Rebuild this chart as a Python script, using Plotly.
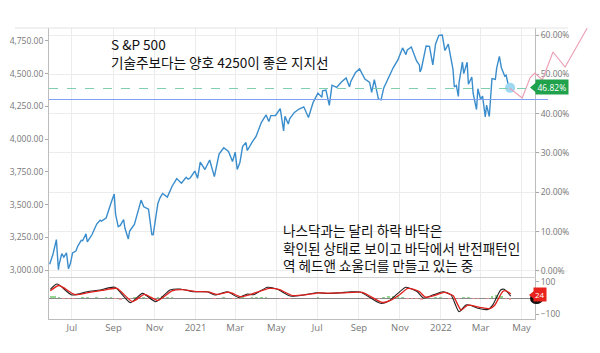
import plotly.graph_objects as go

# ---------------- data ----------------
sp_dates = ["2020-05-29","2020-06-03","2020-06-08","2020-06-11","2020-06-12","2020-06-16","2020-06-19","2020-06-23","2020-06-26","2020-06-29",
"2020-07-02","2020-07-07","2020-07-10","2020-07-15","2020-07-17","2020-07-22","2020-07-24","2020-07-29","2020-07-31","2020-08-07",
"2020-08-12","2020-08-14","2020-08-21","2020-08-28","2020-09-02","2020-09-04","2020-09-08","2020-09-11","2020-09-16","2020-09-18",
"2020-09-23","2020-09-25","2020-10-02","2020-10-09","2020-10-12","2020-10-16","2020-10-23","2020-10-28","2020-10-30","2020-11-04",
"2020-11-06","2020-11-09","2020-11-13","2020-11-20","2020-11-27","2020-12-04","2020-12-11","2020-12-18","2020-12-21","2020-12-24",
"2020-12-31","2021-01-04","2021-01-08","2021-01-15","2021-01-22","2021-01-27","2021-01-29","2021-02-05","2021-02-12","2021-02-19",
"2021-02-25","2021-03-01","2021-03-04","2021-03-08","2021-03-12","2021-03-17","2021-03-19","2021-03-26","2021-04-01","2021-04-09",
"2021-04-16","2021-04-20","2021-04-23","2021-04-30","2021-05-07","2021-05-12","2021-05-14","2021-05-19","2021-05-21","2021-05-28",
"2021-06-04","2021-06-11","2021-06-18","2021-06-25","2021-07-02","2021-07-08","2021-07-09","2021-07-14","2021-07-19","2021-07-23",
"2021-07-30","2021-08-06","2021-08-13","2021-08-18","2021-08-20","2021-08-27","2021-09-02","2021-09-10","2021-09-17","2021-09-20",
"2021-09-24","2021-09-30","2021-10-04","2021-10-08","2021-10-15","2021-10-22","2021-10-29","2021-11-05","2021-11-10","2021-11-12",
"2021-11-18","2021-11-26","2021-11-30","2021-12-01","2021-12-03","2021-12-10","2021-12-15","2021-12-20","2021-12-24","2021-12-29",
"2022-01-03","2022-01-07","2022-01-12","2022-01-14","2022-01-19","2022-01-21","2022-01-24","2022-01-27","2022-01-28","2022-02-02",
"2022-02-04","2022-02-09","2022-02-11","2022-02-16","2022-02-18","2022-02-23","2022-02-25","2022-03-01","2022-03-04","2022-03-08",
"2022-03-10","2022-03-14","2022-03-18","2022-03-23","2022-03-25","2022-03-29","2022-04-01","2022-04-06","2022-04-08","2022-04-12",
"2022-04-14"]
sp_values = [3044,3122,3232,3002,3041,3125,3098,3131,3009,3053,
3130,3145,3185,3227,3224,3276,3215,3258,3271,3351,
3380,3373,3397,3508,3580,3427,3332,3341,3385,3319,
3237,3298,3348,3477,3534,3483,3465,3271,3270,3443,
3509,3550,3585,3557,3638,3699,3663,3709,3694,3703,
3756,3701,3824,3768,3841,3750,3714,3886,3934,3906,
3829,3901,3768,3821,3943,3974,3913,3975,4020,4129,
4185,4134,4180,4181,4233,4063,4174,4116,4156,4204,
4230,4247,4166,4281,4352,4320,4370,4375,4258,4412,
4395,4437,4468,4400,4441,4509,4537,4459,4433,4358,
4455,4308,4300,4391,4471,4545,4605,4697,4646,4682,
4704,4595,4567,4513,4538,4712,4709,4568,4726,4793,
4796,4677,4726,4663,4533,4398,4410,4326,4432,4589,
4501,4587,4419,4475,4349,4226,4385,4306,4329,4170,
4260,4173,4463,4456,4543,4632,4546,4481,4488,4397,
4392]

proj_dates = ["2022-04-14","2022-05-03","2022-05-15","2022-05-22","2022-06-02","2022-06-18","2022-07-06","2022-08-08"]
proj_values = [4392,4314,4470,4505,4452,4666,4551,4849]

support_level = 4303
last_level = 4387
last_pct = 46.82
last_pct_text = "46.82%"

price_ticks = [3000,3250,3500,3750,4000,4250,4500,4750]
pct_ticks = [0,10,20,30,40,50,60]
pct_labels = ["0.00%","10.00%","20.00%","30.00%","40.00%","50.00%","60.00%"]

x_tick_dates = ["2020-07-01","2020-09-01","2020-11-01","2021-01-01","2021-03-01","2021-05-01",
                "2021-07-01","2021-09-01","2021-11-01","2022-01-01","2022-03-01","2022-05-01"]
x_tick_labels = ["Jul","Sep","Nov","2021","Mar","May","Jul","Sep","Nov","2022","Mar","May"]

osc_black_dates = ["2020-05-30","2020-06-09","2020-07-01","2020-07-24","2020-08-12","2020-09-03","2020-09-26","2020-10-14",
"2020-11-03","2020-11-24","2020-12-09","2020-12-29","2021-01-18","2021-01-30","2021-02-17","2021-03-06","2021-03-19",
"2021-03-28","2021-04-18","2021-05-03","2021-05-22","2021-06-11","2021-07-01","2021-07-16","2021-08-05","2021-08-20",
"2021-09-03","2021-10-03","2021-10-15","2021-10-29","2021-11-10","2021-11-27","2021-12-06","2021-12-21","2022-01-04",
"2022-01-16","2022-01-28","2022-02-07","2022-02-14","2022-02-25","2022-03-12","2022-03-19","2022-03-31","2022-04-05","2022-04-15"]
osc_black = [54,87,19,39,50,67,-29,29,-23,50,56,39,39,19,39,4,25,20,67,54,12,19,33,28,33,38,37,-33,-20,29,67,39,0,20,39,19,-86,-44,-45,-64,-71,-44,50,54,12]

osc_red_dates = ["2020-05-30","2020-06-12","2020-07-05","2020-07-27","2020-08-15","2020-09-06","2020-09-29","2020-10-17",
"2020-11-06","2020-11-27","2020-12-12","2021-01-01","2021-01-20","2021-02-02","2021-02-20","2021-03-09","2021-03-22",
"2021-04-21","2021-05-06","2021-05-25","2021-06-14","2021-07-04","2021-07-19","2021-08-08","2021-09-06","2021-10-06",
"2021-10-18","2021-11-01","2021-11-13","2021-11-30","2021-12-09","2021-12-24","2022-01-06","2022-01-19","2022-01-31",
"2022-02-10","2022-02-28","2022-03-15","2022-03-22","2022-04-03","2022-04-08","2022-04-15"]
osc_red = [45,78,22,35,47,60,-22,22,-15,45,52,40,38,22,36,8,20,60,52,15,20,32,30,32,35,-28,-15,22,60,40,5,18,35,15,-75,-45,-58,-66,-45,40,45,25]

hist_dates = ["2020-06-01","2020-06-05","2020-06-12","2020-06-19","2020-06-26","2020-07-03","2020-07-10","2020-07-17","2020-07-24",
"2020-07-31","2020-08-07","2020-08-14","2020-08-21","2020-08-28","2020-09-04","2020-09-11","2020-09-18","2020-09-25","2020-10-02",
"2020-10-09","2020-10-16","2020-10-23","2020-10-30","2020-11-06","2020-11-13","2020-11-20","2020-11-27","2020-12-04","2020-12-11",
"2020-12-18","2020-12-25","2021-01-01","2021-01-08","2021-01-15","2021-01-22","2021-01-29","2021-02-05","2021-02-12","2021-02-19",
"2021-02-26","2021-03-05","2021-03-12","2021-03-19","2021-03-26","2021-04-02","2021-04-09","2021-04-16","2021-04-23","2021-04-30",
"2021-05-07","2021-05-14","2021-05-21","2021-05-28","2021-06-04","2021-06-11","2021-06-18","2021-06-25","2021-07-02","2021-07-09",
"2021-07-16","2021-07-23","2021-07-30","2021-08-06","2021-08-13","2021-08-20","2021-08-27","2021-09-03","2021-09-10","2021-09-17",
"2021-09-24","2021-10-01","2021-10-08","2021-10-15","2021-10-22","2021-10-29","2021-11-05","2021-11-12","2021-11-19","2021-11-26",
"2021-12-03","2021-12-10","2021-12-17","2021-12-24","2021-12-31","2022-01-07","2022-01-14","2022-01-21","2022-01-28","2022-02-04",
"2022-02-11","2022-02-18","2022-02-25","2022-03-04","2022-03-11","2022-03-18","2022-03-25","2022-04-01","2022-04-08","2022-04-14"]
hist_values = [12,15,8,-5,-8,-4,3,5,4,3,4,3,4,6,-5,-10,-8,-6,5,8,4,-5,-9,8,12,6,4,3,2,2,-2,-2,2,-2,2,-6,3,4,2,-5,-6,4,3,4,8,9,6,2,-2,
-4,-8,-6,2,3,2,-3,3,4,2,-2,3,2,2,2,-2,2,2,-5,-6,-5,-4,5,10,12,10,6,-4,-6,-8,-10,3,-2,5,4,-3,-6,-12,-8,6,4,-4,-5,-3,-4,15,20,12,-6,-10]
osc_last_text = "24"
osc_last_value = 24

top_lines = ["S &P 500", "기술주보다는 양호 4250이 좋은 지지선"]
low_lines = ["나스닥과는 달리 하락 바닥은", "확인된 상태로 보이고 바닥에서 반전패턴인", "역 헤드앤 쇼울더를 만들고 있는 중"]

# ---------------- geometry (pixels -> paper) ----------------
W, H = 600, 353
def px(x): return x / W
def py(y): return 1 - y / H

dx0, dx1 = px(49), px(535)
main_dom = [py(277), py(28)]
osc_dom = [py(319), py(277)]

grid = "#ececec"
axis_line = "#bdbdbd"
tick_font = dict(family="Open Sans, sans-serif", size=8.5, color="#777")

fig = go.Figure()

# histogram (lower panel)
fig.add_trace(go.Bar(x=hist_dates, y=hist_values, xaxis="x", yaxis="y3",
                     marker=dict(color=["rgba(110,200,110,0.75)" if v >= 0 else "rgba(240,140,140,0.75)" for v in hist_values],
                                 line=dict(width=0)),
                     width=4 * 86400000, showlegend=False))
fig.add_trace(go.Scatter(x=osc_black_dates, y=osc_black, mode="lines", xaxis="x", yaxis="y3",
                         line=dict(color="#222", width=1.1, shape="spline", smoothing=0.6), showlegend=False))
fig.add_trace(go.Scatter(x=osc_red_dates, y=osc_red, mode="lines", xaxis="x", yaxis="y3",
                         line=dict(color="#e0201c", width=1.3, shape="spline", smoothing=0.6), showlegend=False))

# main S&P line
fig.add_trace(go.Scatter(x=sp_dates, y=sp_values, mode="lines", xaxis="x2", yaxis="y",
                         line=dict(color="#3a8dcc", width=1.4), showlegend=False))
# projection line (drawn on a wider hidden axis pair so it can run past the frame)
fig.add_trace(go.Scatter(x=proj_dates, y=proj_values, mode="lines", xaxis="x4", yaxis="y4",
                         line=dict(color="#eb9db2", width=1.1), showlegend=False))
# last point dot
fig.add_trace(go.Scatter(x=[sp_dates[-1]], y=[sp_values[-1]], mode="markers", xaxis="x2", yaxis="y",
                         marker=dict(color="#9fd8f2", size=10), showlegend=False, cliponaxis=False))

shapes = []
shapes.append(dict(type="line", xref="paper", yref="paper", x0=px(15), x1=px(568), y0=py(28), y1=py(28),
                   line=dict(color="#e2e2e2", width=1)))
for t in pct_ticks:
    shapes.append(dict(type="line", xref="paper", yref="y2", x0=dx1, x1=px(568), y0=t, y1=t,
                       line=dict(color=grid, width=1), layer="below"))
shapes.append(dict(type="line", xref="paper", yref="y", x0=dx0, x1=px(548), y0=support_level, y1=support_level,
                   line=dict(color="#7f9ff0", width=1.1)))
shapes.append(dict(type="line", xref="paper", yref="y", x0=dx0, x1=dx1, y0=last_level, y1=last_level,
                   line=dict(color="#7fcfae", width=1.1, dash="dash")))
shapes.append(dict(type="circle", xref="paper", yref="paper", x0=px(530), x1=px(543), y0=py(304), y1=py(293),
                   fillcolor="#111", line=dict(width=0)))
shapes.append(dict(type="path", xref="paper", yref="paper",
                   path=f"M {px(530)} {py(87.5)} L {px(536)} {py(82.5)} L {px(536)} {py(92.5)} Z",
                   fillcolor="#20a24c", line=dict(width=0)))
shapes.append(dict(type="path", xref="paper", yref="paper",
                   path=f"M {px(529)} {py(295)} L {px(534)} {py(291)} L {px(534)} {py(299)} Z",
                   fillcolor="#e8231d", line=dict(width=0)))

kfont = "Noto Sans CJK KR, sans-serif"
annotations = []
annotations.append(dict(text="<br>".join(top_lines), xref="paper", yref="paper", x=px(110), y=py(53), xanchor="left",
                        yanchor="middle", align="left", showarrow=False, borderpad=0,
                        font=dict(family=kfont, size=13.6, color="#111")))
annotations.append(dict(text="<br>".join(low_lines), xref="paper", yref="paper", x=px(282), y=py(247.5), xanchor="left",
                        yanchor="middle", align="left", showarrow=False, borderpad=0,
                        font=dict(family=kfont, size=13.6, color="#111")))
annotations.append(dict(text=last_pct_text, xref="paper", yref="y2", x=px(535), y=last_pct, xanchor="left", yanchor="middle",
                        showarrow=False, bgcolor="#20a24c", borderpad=1.5,
                        font=dict(family="Open Sans, sans-serif", size=8.5, color="white")))
annotations.append(dict(text=osc_last_text, xref="paper", yref="y3", x=px(533), y=osc_last_value, xanchor="left", yanchor="middle",
                        showarrow=False, bgcolor="#e8231d", borderpad=1,
                        font=dict(family="Open Sans, sans-serif", size=8, color="white")))

x_range = ["2020-05-28", "2022-05-21"]

fig.update_layout(
    width=W, height=H,
    margin=dict(l=0, r=0, t=0, b=0),
    paper_bgcolor="white", plot_bgcolor="rgba(0,0,0,0)",
    bargap=0,
    xaxis=dict(domain=[dx0, dx1], anchor="y3", type="date", range=x_range,
               tickvals=x_tick_dates, ticktext=x_tick_labels, tickfont=dict(family="Open Sans, sans-serif", size=9.5, color="#777"),
               showgrid=True, gridcolor=grid, showline=True, linecolor=axis_line, ticks="", zeroline=False),
    xaxis2=dict(domain=[dx0, dx1], anchor="y", type="date", range=x_range,
                tickvals=x_tick_dates, showticklabels=False, showgrid=True, gridcolor=grid,
                showline=True, linecolor="#d0d0d0", ticks="", zeroline=False),
    yaxis=dict(domain=main_dom, anchor="x2", range=[2946.5, 4849.3], tickvals=price_ticks, tickformat=",.2f",
               tickfont=tick_font, showgrid=False, zeroline=False, showline=True, linecolor=axis_line,
               ticks="outside", ticklen=3, tickcolor="#aaa"),
    yaxis2=dict(overlaying="y", anchor="x2", side="right", range=[-1.53, 61.78], tickvals=pct_ticks, ticktext=pct_labels,
                tickfont=tick_font, showgrid=True, gridcolor=grid, zeroline=False, showline=True, linecolor=axis_line,
                ticks="outside", ticklen=3, tickcolor="#aaa"),
    yaxis3=dict(domain=osc_dom, anchor="x", side="right", range=[-131, 131], tickvals=[-100, 100],
                tickfont=tick_font, showgrid=False, zeroline=True, zerolinecolor="#8a8a8a", zerolinewidth=1,
                showline=True, mirror=True, linecolor=axis_line, ticks="outside", ticklen=3, tickcolor="#aaa"),
    xaxis4=dict(domain=[dx0, 1], anchor="y4", type="date", range=["2020-05-28", "2022-08-27"], visible=False),
    yaxis4=dict(domain=[0, 1], anchor="x4", range=[2365.7, 5063.3], visible=False),
    shapes=shapes,
    annotations=annotations,
)

fig.write_html("out.html")
